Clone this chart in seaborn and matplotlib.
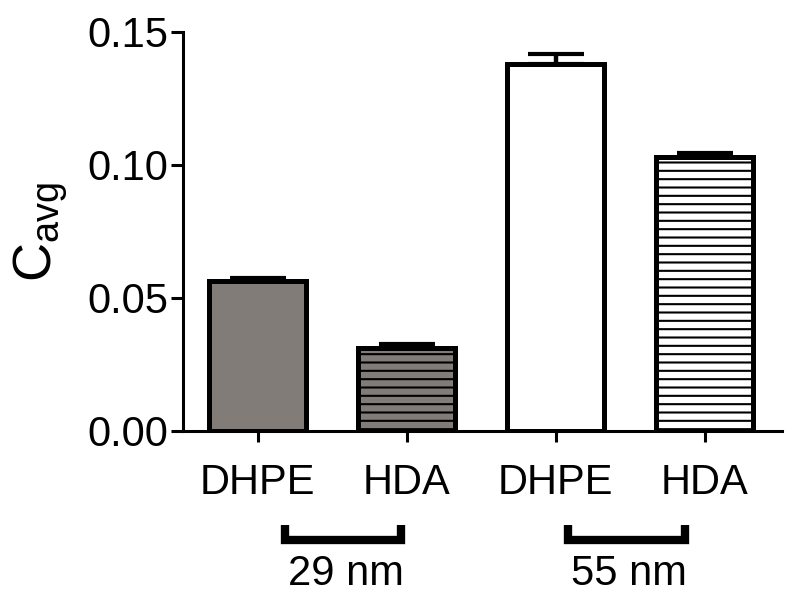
#!/usr/bin/env python3

import matplotlib
matplotlib.use("Agg")
import matplotlib.pyplot as plt
import matplotlib.transforms as mtransforms
import seaborn as sns
import pandas as pd

# values
lipids = ["DHPE", "HDA", "DHPE", "HDA"]
sizes = ["29 nm", "29 nm", "55 nm", "55 nm"]
c_avg = [0.0562, 0.0311, 0.1381, 0.1029]
c_sem = [0.0012, 0.0015, 0.0037, 0.0015]
y_ticks = [0.00, 0.05, 0.10, 0.15]
y_tick_labels = ["0.00", "0.05", "0.10", "0.15"]
group_labels = ["29 nm", "55 nm"]

fills = ["#837b78", "#837b78", "#ffffff", "#ffffff"]
hatches = ["", "--", "", "--"]

sns.set_style("ticks")
plt.rcParams["font.family"] = ["Liberation Sans", "DejaVu Sans"]
plt.rcParams["mathtext.fontset"] = "custom"
plt.rcParams["mathtext.rm"] = "Liberation Sans"
plt.rcParams["hatch.linewidth"] = 1.5
plt.rcParams["hatch.color"] = "black"
plt.rcParams["text.color"] = "black"
plt.rcParams["axes.labelcolor"] = "black"
plt.rcParams["xtick.color"] = "black"
plt.rcParams["ytick.color"] = "black"
plt.rcParams["axes.edgecolor"] = "black"

df = pd.DataFrame({"bar": [s + " " + l for s, l in zip(sizes, lipids)],
                   "value": c_avg})

fig = plt.figure(figsize=(7.9, 5.99), dpi=100)
ax = fig.add_axes([0.2316, 0.2805, 0.9899 - 0.2316, 0.9466 - 0.2805])

sns.barplot(
    data=df,
    x="bar",
    y="value",
    hue="bar",
    palette=fills,
    legend=False,
    errorbar=None,
    width=0.65,
    edgecolor="black",
    linewidth=3.6,
    ax=ax,
)
for patch, h in zip(ax.patches, hatches):
    patch.set_hatch(h)

# upper error bars only, as in the original
ax.errorbar(
    x=range(len(c_avg)),
    y=c_avg,
    yerr=[[0] * len(c_sem), c_sem],
    fmt="none",
    ecolor="black",
    elinewidth=3.2,
    capsize=20,
    capthick=3,
    zorder=1,
)

ax.set_xlim(-0.503, 3.52)
ax.set_ylim(0, 0.15)
ax.set_yticks(y_ticks)
ax.set_yticklabels(y_tick_labels)
ax.set_xticks(range(len(lipids)))
ax.set_xticklabels(lipids)
ax.set_xlabel("")
ax.set_ylabel(r"C$_{\mathrm{avg}}$", fontsize=39, labelpad=12)

for side in ["top", "right"]:
    ax.spines[side].set_visible(False)
for side in ["left", "bottom"]:
    ax.spines[side].set_linewidth(2.2)
ax.tick_params(axis="both", labelsize=30, width=2.2, color="black",
               labelcolor="black")
ax.tick_params(axis="y", length=9, pad=1.5)
ax.tick_params(axis="x", length=8, pad=15)

# size brackets under each pair
trans = mtransforms.blended_transform_factory(ax.transData, ax.transAxes)
brackets = [(0.18, 0.96), (2.08, 2.866)]
for (x0, x1), lab in zip(brackets, group_labels):
    ax.plot([x0, x0, x1, x1], [-0.2356, -0.2744, -0.2744, -0.2356],
            transform=trans, color="black", linewidth=6,
            solid_capstyle="butt", solid_joinstyle="miter", clip_on=False)
    ax.text((x0 + x1) / 2 + 0.02, -0.386, lab, transform=trans,
            ha="center", va="baseline", fontsize=30, color="black")

fig.savefig("out.png", dpi=100)
